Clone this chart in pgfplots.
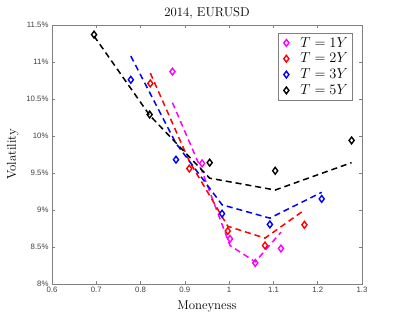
\documentclass[border=0pt]{standalone}
\usepackage{pgfplots}
\pgfplotsset{compat=1.18}
\usepackage{fontspec}
\newfontfamily\tickfont{Liberation Sans}
\definecolor{mag}{rgb}{1,0,1}
\pgfplotsset{lgd/.style={only marks, mark=diamond, mark size=3.4pt,
  legend image code/.code={\path[draw=none,fill=none] (0cm,0cm) -- (0.62cm,0cm);\draw[##1,/tikz/only marks] plot coordinates {(0.2cm,0cm)};}}}
\begin{document}
\begin{tikzpicture}
\useasboundingbox (-52pt,-35pt) rectangle (347pt,284pt);
\begin{axis}[
  at={(0pt,0pt)}, anchor=south west,
  scale only axis, width=310pt, height=259pt,
  xmin=0.6, xmax=1.3, ymin=8, ymax=11.5,
  xtick={0.6,0.7,0.8,0.9,1,1.1,1.2,1.3},
  xticklabels={0.6,0.7,0.8,0.9,1,1.1,1.2,1.3},
  ytick={8,8.5,9,9.5,10,10.5,11,11.5},
  yticklabels={8\%,8.5\%,9\%,9.5\%,10\%,10.5\%,11\%,11.5\%},
  tick align=inside, xtick pos=both, ytick pos=both,
  xticklabel pos=lower, yticklabel pos=left,
  major tick length=3pt,
  axis line style={black!50, line width=0.6pt},
  every tick/.style={black!50, line width=0.5pt},
  tick label style={font=\tickfont\fontsize{7.8}{9}\selectfont, text=black!75},
  label style={font=\fontsize{12.8}{14}\selectfont},
  title style={font=\fontsize{12.8}{14}\selectfont, yshift=-4pt},
  title={2014, EURUSD},
  xlabel={Moneyness}, ylabel={Volatility},
  xlabel style={yshift=-1pt},
  ylabel style={yshift=1pt},
  legend style={at={(0.968,0.969)}, anchor=north east, draw=black!50,
    font=\fontsize{13.5}{16}\selectfont, row sep=0.5pt, inner xsep=2pt, inner ysep=2pt},
  legend cell align=left,
  mark options={solid, line width=1.4pt},
]
% markers
\addplot[color=mag, lgd] coordinates {
(0.872,10.87) (0.939,9.63) (1.002,8.61) (1.059,8.284) (1.117,8.48)};
\addlegendentry{$T=1Y$}
\addplot[color=red, lgd] coordinates {
(0.822,10.71) (0.910,9.56) (0.997,8.716) (1.081,8.52) (1.170,8.80)};
\addlegendentry{$T=2Y$}
\addplot[color=blue, lgd] coordinates {
(0.778,10.76) (0.880,9.68) (0.984,8.95) (1.092,8.805) (1.209,9.15)};
\addlegendentry{$T=3Y$}
\addplot[color=black, lgd] coordinates {
(0.695,11.37) (0.8205,10.29) (0.956,9.64) (1.104,9.53) (1.2765,9.94)};
\addlegendentry{$T=5Y$}
% fitted lines
\addplot[forget plot, color=mag, line width=1.5pt, dash pattern=on 6pt off 4pt] coordinates {
(0.872,10.45) (0.939,9.52) (1.002,8.52) (1.059,8.30) (1.117,8.70)};
\addplot[forget plot, color=red, line width=1.5pt, dash pattern=on 6pt off 4pt] coordinates {
(0.822,10.85) (0.910,9.66) (0.997,8.78) (1.081,8.62) (1.170,9.00)};
\addplot[forget plot, color=blue, line width=1.5pt, dash pattern=on 6pt off 4pt] coordinates {
(0.778,11.08) (0.880,9.90) (0.984,9.07) (1.092,8.89) (1.209,9.24)};
\addplot[forget plot, color=black, line width=1.5pt, dash pattern=on 6pt off 4pt] coordinates {
(0.695,11.35) (0.8205,10.28) (0.956,9.43) (1.104,9.27) (1.2765,9.64)};
\end{axis}
\end{tikzpicture}
\end{document}
